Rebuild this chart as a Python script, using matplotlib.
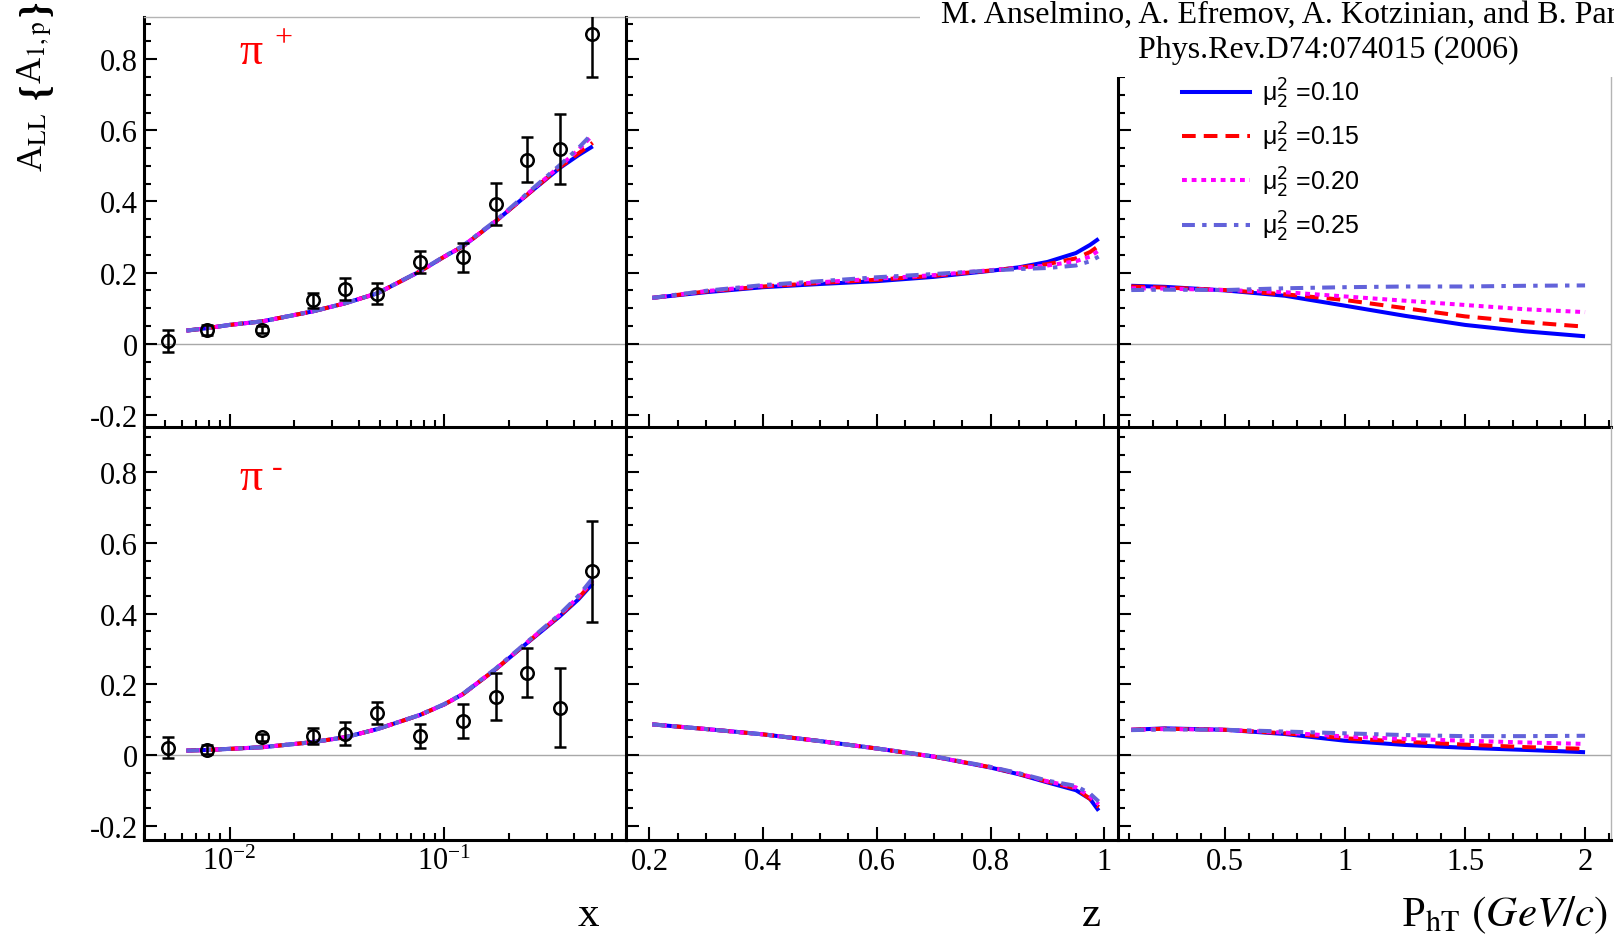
import numpy as np
import matplotlib
matplotlib.use('Agg')
import matplotlib.pyplot as plt
from matplotlib.lines import Line2D
from matplotlib.patches import Rectangle
from matplotlib.ticker import MultipleLocator, FuncFormatter, LogLocator, NullFormatter

plt.rcParams['font.family'] = ['Liberation Serif', 'DejaVu Serif']
plt.rcParams['mathtext.fontset'] = 'stix'

# ---- data ----
mu2_labels = ['0.10', '0.15', '0.20', '0.25']

# COMPASS points, x dependence
x_data = [0.00516, 0.00785, 0.0142, 0.0244, 0.0346, 0.0488, 0.0767, 0.122, 0.173, 0.243, 0.344, 0.485]
pip_data = [0.0075, 0.039, 0.039, 0.122, 0.155, 0.141, 0.230, 0.243, 0.392, 0.517, 0.548, 0.870]
pip_err = [0.030, 0.015, 0.010, 0.022, 0.031, 0.030, 0.032, 0.041, 0.059, 0.063, 0.098, 0.120]
pim_data = [0.020, 0.015, 0.050, 0.054, 0.060, 0.118, 0.0525, 0.096, 0.165, 0.2325, 0.134, 0.520]
pim_err = [0.030, 0.012, 0.010, 0.022, 0.032, 0.032, 0.034, 0.048, 0.066, 0.070, 0.113, 0.143]

# model curves vs x  (mu2^2 = 0.10, 0.15, 0.20, 0.25)
x_curve = [0.0063, 0.0079, 0.01, 0.0142, 0.0244, 0.0346, 0.0488, 0.0767, 0.1, 0.122, 0.173, 0.243, 0.344, 0.42, 0.49]
pip_x_010 = [0.037, 0.044, 0.053, 0.063, 0.091, 0.114, 0.142, 0.203, 0.245, 0.274, 0.344, 0.419, 0.494, 0.530, 0.555]
pip_x_015 = [0.037, 0.044, 0.053, 0.063, 0.091, 0.114, 0.142, 0.203, 0.245, 0.274, 0.344, 0.419, 0.496, 0.535, 0.565]
pip_x_020 = [0.037, 0.044, 0.053, 0.063, 0.091, 0.114, 0.142, 0.203, 0.245, 0.275, 0.345, 0.421, 0.499, 0.545, 0.587]
pip_x_025 = [0.037, 0.044, 0.053, 0.063, 0.091, 0.114, 0.142, 0.204, 0.246, 0.276, 0.346, 0.423, 0.502, 0.550, 0.592]
pim_x_010 = [0.012, 0.014, 0.017, 0.0216, 0.036, 0.050, 0.073, 0.1125, 0.143, 0.172, 0.242, 0.317, 0.392, 0.440, 0.485]
pim_x_015 = [0.012, 0.014, 0.017, 0.0216, 0.036, 0.050, 0.073, 0.1125, 0.143, 0.172, 0.242, 0.318, 0.394, 0.443, 0.490]
pim_x_020 = [0.012, 0.014, 0.017, 0.0216, 0.036, 0.050, 0.073, 0.1125, 0.143, 0.172, 0.243, 0.319, 0.396, 0.447, 0.495]
pim_x_025 = [0.012, 0.014, 0.017, 0.0216, 0.036, 0.050, 0.073, 0.113, 0.144, 0.173, 0.244, 0.320, 0.398, 0.450, 0.500]

# model curves vs z
z_curve = [0.205, 0.3, 0.4, 0.5, 0.6, 0.7, 0.8, 0.85, 0.9, 0.95, 0.975, 0.99]
pip_z_010 = [0.129, 0.145, 0.159, 0.168, 0.176, 0.188, 0.205, 0.215, 0.230, 0.255, 0.278, 0.295]
pip_z_015 = [0.129, 0.147, 0.161, 0.171, 0.180, 0.191, 0.206, 0.214, 0.224, 0.240, 0.258, 0.275]
pip_z_020 = [0.129, 0.148, 0.163, 0.173, 0.183, 0.193, 0.207, 0.213, 0.220, 0.232, 0.245, 0.262]
pip_z_025 = [0.129, 0.149, 0.165, 0.176, 0.187, 0.196, 0.206, 0.210, 0.213, 0.220, 0.232, 0.245]
pim_z_010 = [0.0863, 0.073, 0.058, 0.039, 0.018, -0.005, -0.036, -0.055, -0.078, -0.100, -0.125, -0.158]
pim_z_015 = [0.0863, 0.073, 0.058, 0.039, 0.018, -0.005, -0.035, -0.054, -0.076, -0.095, -0.125, -0.148]
pim_z_020 = [0.0863, 0.073, 0.058, 0.039, 0.018, -0.005, -0.035, -0.053, -0.075, -0.092, -0.118, -0.140]
pim_z_025 = [0.0863, 0.073, 0.058, 0.039, 0.018, -0.004, -0.034, -0.052, -0.073, -0.088, -0.110, -0.132]

# model curves vs PhT
pt_curve = [0.11, 0.25, 0.5, 0.75, 1.0, 1.25, 1.5, 1.75, 2.0]
pip_pt_010 = [0.163, 0.160, 0.150, 0.135, 0.107, 0.0785, 0.053, 0.035, 0.021]
pip_pt_015 = [0.161, 0.158, 0.151, 0.139, 0.123, 0.100, 0.077, 0.061, 0.048]
pip_pt_020 = [0.156, 0.155, 0.151, 0.145, 0.133, 0.121, 0.109, 0.097, 0.089]
pip_pt_025 = [0.151, 0.152, 0.151, 0.156, 0.159, 0.161, 0.161, 0.163, 0.164]
pim_pt_010 = [0.071, 0.075, 0.071, 0.059, 0.040, 0.028, 0.020, 0.014, 0.0075]
pim_pt_015 = [0.071, 0.074, 0.071, 0.061, 0.047, 0.037, 0.029, 0.022, 0.017]
pim_pt_020 = [0.071, 0.073, 0.071, 0.063, 0.052, 0.045, 0.040, 0.035, 0.031]
pim_pt_025 = [0.070, 0.072, 0.071, 0.066, 0.061, 0.056, 0.053, 0.053, 0.054]

styles = [
    dict(color='#0000ff', linestyle='-'),
    dict(color='#ff0000', linestyle=(0, (3.4, 2.0))),
    dict(color='#ff00ff', linestyle=(0, (1.2, 1.2))),
    dict(color='#6262da', linestyle=(0, (3.2, 1.8, 1.1, 1.8))),
]
LW = 2.9

W, H = 1614.0, 937.0
fig = plt.figure(figsize=(W / 100, H / 100), dpi=100)

cols = [(144, 626), (626, 1118), (1118, 1611)]
rows = [(17.5, 428), (428, 841)]
ylims = [(-0.234, 0.92), (-0.241, 0.928)]
xlims = [(0.0040, 0.70), (0.1588, 1.024), (0.0547, 2.108)]

def yfmt(v, p):
    if abs(v) < 1e-9:
        return '0'
    return '%g' % v

axes = {}
for r, (y0, y1) in enumerate(rows):
    for c, (x0, x1) in enumerate(cols):
        ax = fig.add_axes([x0 / W, 1 - y1 / H, (x1 - x0) / W, (y1 - y0) / H])
        if c == 0:
            ax.set_xscale('log')
            ax.xaxis.set_major_locator(LogLocator(base=10))
            ax.xaxis.set_minor_locator(LogLocator(base=10, subs=np.arange(2, 10)))
            ax.xaxis.set_minor_formatter(NullFormatter())
        elif c == 1:
            ax.xaxis.set_major_locator(MultipleLocator(0.2))
            ax.xaxis.set_minor_locator(MultipleLocator(0.05))
            ax.xaxis.set_major_formatter(FuncFormatter(yfmt))
        else:
            ax.xaxis.set_major_locator(MultipleLocator(0.5))
            ax.xaxis.set_minor_locator(MultipleLocator(0.1))
            ax.xaxis.set_major_formatter(FuncFormatter(yfmt))
        ax.set_xlim(*xlims[c])
        ax.set_ylim(*ylims[r])
        ax.yaxis.set_major_locator(MultipleLocator(0.2))
        ax.yaxis.set_minor_locator(MultipleLocator(0.05))
        ax.yaxis.set_major_formatter(FuncFormatter(yfmt))
        ax.tick_params(which='both', direction='in', top=False, right=False,
                       width=1.5, color='black', labelsize=22)
        ax.tick_params(which='major', length=9.4)
        ax.tick_params(which='minor', length=4.7)
        ax.tick_params(axis='y', pad=4.5, labelleft=(c == 0))
        ax.tick_params(axis='x', pad=5, labelbottom=(r == 1))
        for s in ['left', 'bottom']:
            ax.spines[s].set_linewidth(2.2)
            ax.spines[s].set_color('black')
        ax.spines['top'].set_color('#b4b4b4')
        ax.spines['top'].set_linewidth(1.0)
        ax.spines['top'].set_visible(r == 0)
        ax.spines['right'].set_color('#b4b4b4')
        ax.spines['right'].set_linewidth(1.0)
        ax.spines['right'].set_visible(c == 2)
        ax.axhline(0, color='#a8a8a8', lw=1.0, zorder=1)
        ax.patch.set_alpha(0)
        axes[(r, c)] = ax

curves = [
    (0, 0, x_curve, [pip_x_010, pip_x_015, pip_x_020, pip_x_025]),
    (1, 0, x_curve, [pim_x_010, pim_x_015, pim_x_020, pim_x_025]),
    (0, 1, z_curve, [pip_z_010, pip_z_015, pip_z_020, pip_z_025]),
    (1, 1, z_curve, [pim_z_010, pim_z_015, pim_z_020, pim_z_025]),
    (0, 2, pt_curve, [pip_pt_010, pip_pt_015, pip_pt_020, pip_pt_025]),
    (1, 2, pt_curve, [pim_pt_010, pim_pt_015, pim_pt_020, pim_pt_025]),
]
for r, c, xs, ys in curves:
    ax = axes[(r, c)]
    for yv, st in zip(ys, styles):
        ax.plot(xs, yv, lw=LW, dash_capstyle='butt', solid_capstyle='butt', zorder=3, **st)

for r, yd, ye in [(0, pip_data, pip_err), (1, pim_data, pim_err)]:
    axes[(r, 0)].errorbar(x_data, yd, yerr=ye, fmt='o', ms=9, mfc='none', mec='black',
                          mew=1.8, ecolor='black', elinewidth=1.8, capsize=4,
                          capthick=1.8, zorder=5, clip_on=True)

# pion labels
for r, sign, by, sx, sy in [(0, '+', 0.887, 0.290, 0.948), (1, '-', 0.850, 0.276, 0.903)]:
    ax = axes[(r, 0)]
    ax.text(0.197, by, 'π', color='red', fontsize=33, transform=ax.transAxes,
            ha='left', va='baseline')
    ax.text(sx, sy, sign, color='red', fontsize=23, transform=ax.transAxes,
            ha='center', va='center')

# legend
handles = [Line2D([], [], lw=LW, **st) for st in styles]
labels = ['μ$_2^2$ =' + v for v in mu2_labels]
leg = axes[(0, 2)].legend(handles, labels, loc='upper left',
                          bbox_to_anchor=(1182 / W, 1 - 77 / H),
                          bbox_transform=fig.transFigure, frameon=False,
                          prop={'family': 'Liberation Sans', 'size': 18},
                          handlelength=2.7, handletextpad=0.5, labelspacing=0.40,
                          borderaxespad=0, borderpad=0)
for t in leg.get_texts():
    t.set_math_fontfamily('dejavusans')

# white title box over the top-right corner
fig.add_artist(Rectangle((920 / W, 1 - 78 / H), 1 - 920 / W, 78 / H,
                         transform=fig.transFigure, facecolor='white',
                         edgecolor='none', zorder=10))
fig.text(941 / W, 1 - 23 / H,
         'M. Anselmino, A. Efremov, A. Kotzinian, and B. Parsamyan',
         fontsize=23, ha='left', va='baseline', zorder=11)
fig.text(1138 / W, 1 - 58 / H, 'Phys.Rev.D74:074015 (2006)',
         fontsize=23, ha='left', va='baseline', zorder=11)

# y title: A_LL {A_1,p}
ykw = dict(rotation=90, rotation_mode='anchor', ha='left', va='baseline', fontsize=26)
fig.text(42 / W, 1 - 172 / H, r'A$_{\mathrm{LL}}$', **ykw)
fig.text(42 / W, 1 - 84 / H, r'A$_{\mathrm{1,p}}$', **ykw)
bkw = dict(rotation=90, rotation_mode='anchor', ha='left', va='center',
           fontsize=28, fontweight='bold')
fig.text(36 / W, 1 - 99 / H, '{', **bkw)
fig.text(36 / W, 1 - 16 / H, '}', **bkw)

# x titles
fig.text(599 / W, 1 - 926 / H, 'x', fontsize=31, ha='right', va='baseline')
fig.text(1101 / W, 1 - 926 / H, 'z', fontsize=31, ha='right', va='baseline')
fig.text(1608 / W, 1 - 926 / H, r'P$_{\mathrm{hT}}$ $\mathit{(GeV/c)}$',
         fontsize=31, ha='right', va='baseline')

fig.savefig('out.png', dpi=100)
